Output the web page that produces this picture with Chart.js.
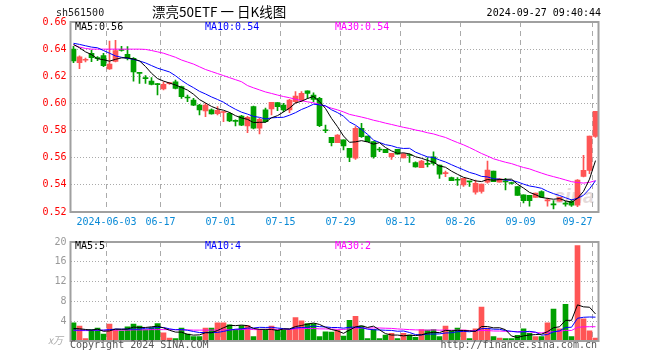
<!DOCTYPE html>
<html><head><meta charset="utf-8">
<script src="https://cdn.jsdelivr.net/npm/chart.js@4.4.1/dist/chart.umd.min.js"></script>
<style>
html,body{margin:0;padding:0;background:#fff;}
#wrap{position:relative;width:660px;height:360px;overflow:hidden;font-family:"DejaVu Sans Mono",monospace;font-size:10px;}
canvas{position:absolute;left:0;z-index:1;}
.t{position:absolute;white-space:pre;line-height:12px;z-index:2;}
#wm{position:absolute;left:554px;top:185px;font-family:"Liberation Sans",sans-serif;font-weight:bold;font-style:italic;font-size:20px;color:#e4dada;z-index:0;}
</style></head><body>
<div id="wrap">
<div id="wm">sina</div>
<canvas id="k" width="660" height="232" style="top:0"></canvas>
<canvas id="v" width="660" height="128" style="top:232px"></canvas>
<div class="t" style="left:56px;top:7px;color:#222;">sh561500</div>
<div class="t" style="left:152px;top:3px;font-family:'Noto Sans CJK SC',sans-serif;font-size:13.5px;line-height:16px;color:#000;">漂亮50ETF 一 日K线图</div>
<div class="t" style="right:59px;top:7px;color:#000;">2024-09-27 09:40:44</div>
<div class="t" style="left:75px;top:21px;color:#000;">MA5:0.56</div>
<div class="t" style="left:205px;top:21px;color:#0000ff;">MA10:0.54</div>
<div class="t" style="left:335px;top:21px;color:#ff00ff;">MA30:0.54</div>
<div class="t" style="left:75px;top:240px;color:#000;">MA5:5</div>
<div class="t" style="left:205px;top:240px;color:#0000ff;">MA10:4</div>
<div class="t" style="left:335px;top:240px;color:#ff00ff;">MA30:2</div>
<div class="t" style="left:48px;top:334px;color:#aaa;font-style:italic;font-family:'Noto Sans CJK SC',serif;font-size:10px;">x万</div>
<div class="t" style="left:70px;top:339px;color:#555;">Copyright 2024 SINA.COM</div>
<div class="t" style="right:63px;top:339px;color:#555;">http://finance.sina.com.cn</div>
</div>
<script>
// ---- data ----
const dates = ['05-24','05-27','05-28','05-29','05-30','05-31',
 '06-03','06-04','06-05','06-06','06-07','06-11','06-12','06-13','06-14',
 '06-17','06-18','06-19','06-20','06-21','06-24','06-25','06-26','06-27','06-28',
 '07-01','07-02','07-03','07-04','07-05','07-08','07-09','07-10','07-11','07-12',
 '07-15','07-16','07-17','07-18','07-19','07-22','07-23','07-24','07-25','07-26',
 '07-29','07-30','07-31','08-01','08-02','08-05','08-06','08-07','08-08','08-09',
 '08-12','08-13','08-14','08-15','08-16','08-19','08-20','08-21','08-22','08-23',
 '08-26','08-27','08-28','08-29','08-30','09-02','09-03','09-04','09-05','09-06',
 '09-09','09-10','09-11','09-12','09-13','09-18','09-19','09-20',
 '09-23','09-24','09-25','09-26','09-27'];
const tickDates  = ['06-03','06-17','07-01','07-15','07-29','08-12','08-26','09-09','09-27'];
const tickLabels = ['2024-06-03','06-17','07-01','07-15','07-29','08-12','08-26','09-09','09-27'];

const opens  = [0.6400,0.6300,0.6318,0.6369,0.6334,0.6352,0.6254,0.6310,0.6395,0.6362,
 0.6332,0.6225,0.6187,0.6165,0.6142,0.6106,0.6146,0.6160,0.6124,0.6044,
 0.6025,0.5988,0.5944,0.5952,0.5925,0.5933,0.5927,0.5872,0.5907,0.5834,
 0.5976,0.5817,0.5952,0.5959,0.6006,0.5988,0.5952,0.6013,0.6025,0.6092,
 0.6062,0.6037,0.5802,0.5750,0.5711,0.5731,0.5669,0.5596,0.5817,0.5760,
 0.5718,0.5660,0.5662,0.5608,0.5662,0.5598,0.5620,0.5565,0.5526,0.5555,
 0.5606,0.5545,0.5483,0.5453,0.5438,0.5400,0.5426,0.5347,0.5351,0.5419,
 0.5502,0.5419,0.5426,0.5414,0.5388,0.5327,0.5322,0.5308,0.5351,0.5282,
 0.5257,0.5279,0.5262,0.5279,0.5250,0.5463,0.5507,0.5756];
const highs  = [0.6420,0.6350,0.6335,0.6394,0.6345,0.6370,0.6460,0.6465,0.6420,0.6418,
 0.6337,0.6228,0.6205,0.6190,0.6148,0.6160,0.6155,0.6172,0.6128,0.6062,
 0.6037,0.5993,0.6001,0.5960,0.5976,0.5940,0.5935,0.5880,0.5912,0.5905,
 0.5981,0.5890,0.5965,0.6008,0.6006,0.6001,0.6030,0.6087,0.6087,0.6092,
 0.6079,0.6045,0.5841,0.5750,0.5770,0.5731,0.5669,0.5829,0.5853,0.5760,
 0.5718,0.5677,0.5662,0.5632,0.5662,0.5632,0.5628,0.5570,0.5580,0.5601,
 0.5643,0.5545,0.5502,0.5458,0.5453,0.5448,0.5426,0.5436,0.5405,0.5575,
 0.5502,0.5448,0.5448,0.5420,0.5388,0.5327,0.5322,0.5339,0.5356,0.5302,
 0.5284,0.5308,0.5279,0.5290,0.5439,0.5617,0.5759,0.5941];
const lows   = [0.6300,0.6257,0.6305,0.6308,0.6315,0.6270,0.6250,0.6305,0.6385,0.6320,
 0.6164,0.6148,0.6148,0.6136,0.6062,0.6100,0.6140,0.6106,0.6037,0.6013,
 0.5983,0.5915,0.5903,0.5920,0.5915,0.5866,0.5866,0.5835,0.5836,0.5785,
 0.5812,0.5775,0.5862,0.5915,0.5947,0.5939,0.5932,0.6001,0.6013,0.6037,
 0.6013,0.5829,0.5785,0.5686,0.5711,0.5657,0.5571,0.5588,0.5750,0.5718,
 0.5596,0.5645,0.5637,0.5588,0.5627,0.5598,0.5565,0.5530,0.5526,0.5533,
 0.5545,0.5448,0.5460,0.5431,0.5395,0.5388,0.5388,0.5332,0.5339,0.5412,
 0.5424,0.5419,0.5363,0.5405,0.5322,0.5267,0.5243,0.5308,0.5308,0.5243,
 0.5223,0.5279,0.5243,0.5242,0.5240,0.5458,0.5483,0.5750];
const closes = [0.6313,0.6343,0.6322,0.6337,0.6330,0.6278,0.6290,0.6390,0.6390,0.6333,
 0.6233,0.6222,0.6183,0.6140,0.6138,0.6140,0.6150,0.6111,0.6050,0.6040,
 0.5988,0.5952,0.5988,0.5922,0.5950,0.5937,0.5871,0.5868,0.5840,0.5898,
 0.5817,0.5883,0.5866,0.6008,0.5976,0.5952,0.6025,0.6055,0.6074,0.6074,
 0.6030,0.5836,0.5799,0.5711,0.5767,0.5687,0.5603,0.5817,0.5755,0.5718,
 0.5608,0.5657,0.5637,0.5632,0.5627,0.5628,0.5616,0.5533,0.5575,0.5551,
 0.5558,0.5478,0.5487,0.5431,0.5434,0.5448,0.5422,0.5412,0.5405,0.5509,
 0.5424,0.5444,0.5422,0.5410,0.5322,0.5284,0.5284,0.5339,0.5308,0.5286,
 0.5253,0.5308,0.5258,0.5250,0.5436,0.5507,0.5759,0.5941];
const upFlags = [0,1,1,0,0,0,1,1,0,0, 0,0,0,0,0,1,1,0,0,0, 0,0,1,0,1,1,0,0,0,1,
 0,1,0,1,0,0,1,1,1,0, 0,0,0,0,1,0,0,1,0,0, 0,0,0,1,0,1,0,0,1,0,
 0,0,1,0,0,1,0,1,1,1, 0,1,0,0,0,0,0,1,0,1, 0,1,0,0,1,1,1,1];
const volumes = [3.67,3.0,0.47,2.33,2.6,1.4,3.4,2.33,2.07,2.87,
 3.4,3.0,2.33,2.73,3.53,1.67,0.6,0.47,2.6,1.4,
 0.87,0.87,2.6,2.6,3.67,3.67,3.27,2.33,3.13,3.13,
 0.87,2.33,2.33,3.0,2.2,2.33,2.33,4.73,4.07,3.53,
 3.53,0.87,1.87,1.8,2.2,1.0,4.2,5.0,3.0,0.47,
 2.33,0.47,1.2,1.53,0.47,1.53,1.2,0.73,2.33,2.2,
 2.33,0.87,3.0,1.93,2.6,2.2,0.47,2.47,6.87,2.6,
 0.87,0.6,0.47,0.47,1.13,2.47,1.53,0.87,0.87,3.67,
 6.47,2.47,7.4,0.87,19.3,4.47,2.07,0.6];
// moving-average values for the first days (earlier data not shown)
const ma5Head  = [0.6435,0.6410,0.6380,0.6360];
const ma10Head = [0.6443,0.6435,0.6425,0.6415,0.6410,0.6390,0.6370,0.6350,0.6340];
const ma30Head = [0.6430,0.6415,0.6405,0.6400,0.6400,0.6400,0.6400,0.6400,0.6400,0.6400,
 0.6400,0.6400,0.6398,0.6390,0.6380,0.6370,0.6355,0.6340,0.6320,0.6305,
 0.6290,0.6270,0.6250,0.6235,0.6220,0.6205,0.6190,0.6175,0.6160];
const vma5Head  = [2.53,2.47,2.33,2.2];
const vma10Head = [2.2,2.2,2.2,2.2,2.2,2.2,2.3,2.4,2.4];
const vma30Head = [2.1,2.1,2.1,2.1,2.15,2.15,2.2,2.2,2.2,2.2,2.25,2.25,2.25,2.3,2.3,
 2.3,2.3,2.3,2.25,2.25,2.2,2.2,2.2,2.2,2.2,2.25,2.25,2.3,2.3];

// ---- helpers ----
function movingAvg(src, n, head){
  return src.map((_, i) => i < n - 1 ? head[i] :
    src.slice(i - n + 1, i + 1).reduce((a, b) => a + b, 0) / n);
}
const RED = '#ff5555', GREEN = '#00a000';
const candleColor = ctx => upFlags[ctx.dataIndex] ? RED : GREEN;
const FONT = {family:'DejaVu Sans Mono', size:10};
const isTick = i => i !== undefined && tickDates.includes(dates[i]);

const frame = {id:'frame', afterDraw(c){
  const a = c.chartArea, x = c.ctx;
  x.save(); x.strokeStyle = '#a0a0a0'; x.lineWidth = 2;
  x.strokeRect(a.left, a.top, a.right - a.left, a.bottom - a.top);
  x.restore();
}};

function xScale(showTicks){
  return {
    type:'category', offset:true,
    grid:{offset:true, drawTicks:false, lineWidth:1,
      color: ctx => isTick(ctx.index) ? '#aaaaaa' : 'rgba(0,0,0,0)'},
    border:{display:false, dash:[5,4]},
    ticks: showTicks ? {autoSkip:false, maxRotation:0, minRotation:0, align:'inner',
      labelOffset:-3, padding:4, color:'#0a8ad6', font:FONT,
      callback:(v, i) => { const k = tickDates.indexOf(dates[i]); return k >= 0 ? tickLabels[k] : ''; }}
      : {display:false},
    afterFit: s => { s.height = showTicks ? 20 : 0; }
  };
}
function line(data, color){
  return {type:'line', data, borderColor:color, borderWidth:1, pointRadius:0, tension:0, order:0};
}
const base = {responsive:false, animation:false, devicePixelRatio:1, events:[],
  plugins:{legend:{display:false}, tooltip:{enabled:false}}};

new Chart(document.getElementById('k'), {
  type:'bar',
  data:{labels:dates, datasets:[
    line(movingAvg(closes, 5, ma5Head), '#000000'),
    line(movingAvg(closes, 10, ma10Head), '#0000ff'),
    line(movingAvg(closes, 30, ma30Head), '#ff00ff'),
    {type:'bar', data:lows.map((l, i) => [l, highs[i]]), barThickness:1, grouped:false,
      backgroundColor:candleColor, order:2},
    {type:'bar', data:opens.map((o, i) => [o, closes[i]]), barThickness:5, grouped:false,
      minBarLength:1, backgroundColor:candleColor, order:1}
  ]},
  options:Object.assign({}, base, {
    layout:{padding:{left:0.5, right:61.5, top:22, bottom:0}},
    scales:{
      x: xScale(true),
      y:{min:0.52, max:0.66, grid:{drawTicks:false, color:'#aaaaaa'},
        border:{display:false, dash:[1,2]},
        ticks:{stepSize:0.02, padding:4, color:'#ff0000', font:FONT, callback:v => v.toFixed(2)},
        afterFit: s => { s.width = 70; }}
    }
  }),
  plugins:[frame]
});

new Chart(document.getElementById('v'), {
  type:'bar',
  data:{labels:dates, datasets:[
    line(movingAvg(volumes, 5, vma5Head), '#000000'),
    line(movingAvg(volumes, 10, vma10Head), '#0000ff'),
    line(movingAvg(volumes, 30, vma30Head), '#ff00ff'),
    {type:'bar', data:volumes, barThickness:5, backgroundColor:candleColor, order:1}
  ]},
  options:Object.assign({}, base, {
    layout:{padding:{left:0.5, right:61.5, top:9, bottom:19}},
    scales:{
      x: xScale(false),
      y:{min:0, max:20, grid:{drawTicks:false, color:'#aaaaaa'},
        border:{display:false, dash:[1,2]},
        ticks:{stepSize:4, padding:4, color:'#999999', font:FONT, callback:v => v === 0 ? '' : v},
        afterFit: s => { s.width = 70; }}
    }
  }),
  plugins:[frame]
});
</script>
</body></html>
